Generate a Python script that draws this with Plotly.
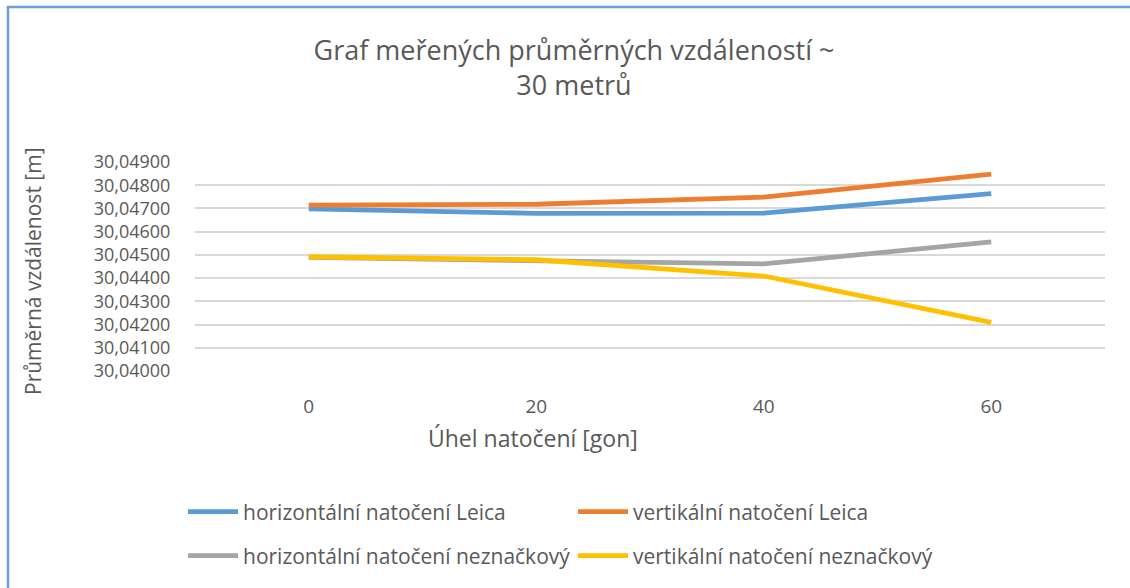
import plotly.graph_objects as go

categories = ["0", "20", "40", "60"]
horiz_leica = [30.04698, 30.04679, 30.04680, 30.04764]
vert_leica = [30.04714, 30.04718, 30.04749, 30.04848]
horiz_neznackovy = [30.04489, 30.04475, 30.04461, 30.04556]
vert_neznackovy = [30.04492, 30.04479, 30.04409, 30.04209]

series_names = [
    "horizontální natočení Leica",
    "vertikální natočení Leica",
    "horizontální natočení neznačkový",
    "vertikální natočení neznačkový",
]
series_values = [horiz_leica, vert_leica, horiz_neznackovy, vert_neznackovy]
colors = ["#5B9BD5", "#ED7D31", "#A5A5A5", "#FFC000"]
legend_ids = ["legend", "legend", "legend2", "legend2"]

FONT = "Open Sans, Noto Sans, sans-serif"
TXT = "#595959"

W, H = 1130, 588
L, R, T, B = 195, 25, 162, 217

fig = go.Figure()
for name, vals, col, lg in zip(series_names, series_values, colors, legend_ids):
    fig.add_trace(go.Scatter(
        x=categories, y=vals, mode="lines", name=name,
        line=dict(color=col, width=4.8), legend=lg,
    ))

def px_to_paper_x(px):
    return (px - L) / (W - L - R)

def px_to_paper_y(py):
    return (H - B - py) / (H - T - B)

legend_common = dict(
    orientation="h", xref="container", yref="container",
    xanchor="left", yanchor="middle",
    font=dict(family=FONT, size=21, color=TXT),
    entrywidth=325, itemwidth=50, bgcolor="rgba(0,0,0,0)",
)

fig.update_layout(
    width=W, height=H,
    margin=dict(l=L, r=R, t=T, b=B),
    paper_bgcolor="white", plot_bgcolor="white",
    separators=", ",
    showlegend=True,
    title=dict(
        text="Graf meřených průměrných vzdáleností ~<br>30 metrů",
        x=574 / W, xref="container", xanchor="center",
        y=1 - 60 / H, yref="container", yanchor="top",
        font=dict(family=FONT, size=27, color=TXT),
    ),
    legend=dict(x=183 / W, y=1 - 512 / H, **legend_common),
    legend2=dict(x=183 / W, y=1 - 556 / H, **legend_common),
    xaxis=dict(
        type="category", range=[-0.5, 3.5],
        showgrid=False, zeroline=False, showline=False,
        tickfont=dict(family=FONT, size=19, color=TXT),
        ticks="outside", ticklen=18, tickcolor="rgba(0,0,0,0)",
    ),
    yaxis=dict(
        range=[30.040, 30.049], dtick=0.001, tick0=30.040,
        tickformat=".5f",
        showgrid=True, gridcolor="#D9D9D9", gridwidth=1.5,
        zeroline=False, showline=False,
        tickfont=dict(family=FONT, size=18, color=TXT),
        ticks="outside", ticklen=20, tickcolor="rgba(0,0,0,0)",
    ),
    annotations=[
        dict(text="Úhel natočení [gon]", xref="paper", yref="paper",
             x=px_to_paper_x(533), y=px_to_paper_y(438),
             xanchor="center", yanchor="middle", showarrow=False,
             font=dict(family=FONT, size=23, color=TXT)),
        dict(text="Průměrná vzdálenost [m]", xref="paper", yref="paper",
             x=px_to_paper_x(33), y=px_to_paper_y(271), textangle=-90,
             xanchor="center", yanchor="middle", showarrow=False,
             font=dict(family=FONT, size=21, color=TXT)),
    ],
    shapes=[
        dict(type="rect", xref="paper", yref="paper",
             x0=px_to_paper_x(8), x1=px_to_paper_x(W + 20),
             y0=px_to_paper_y(H + 20), y1=px_to_paper_y(7),
             line=dict(color="#6A9FD8", width=2.5), layer="below"),
    ],
)

fig.write_html("out.html", config={"displayModeBar": False},
               post_script="document.body.style.margin='0';")
